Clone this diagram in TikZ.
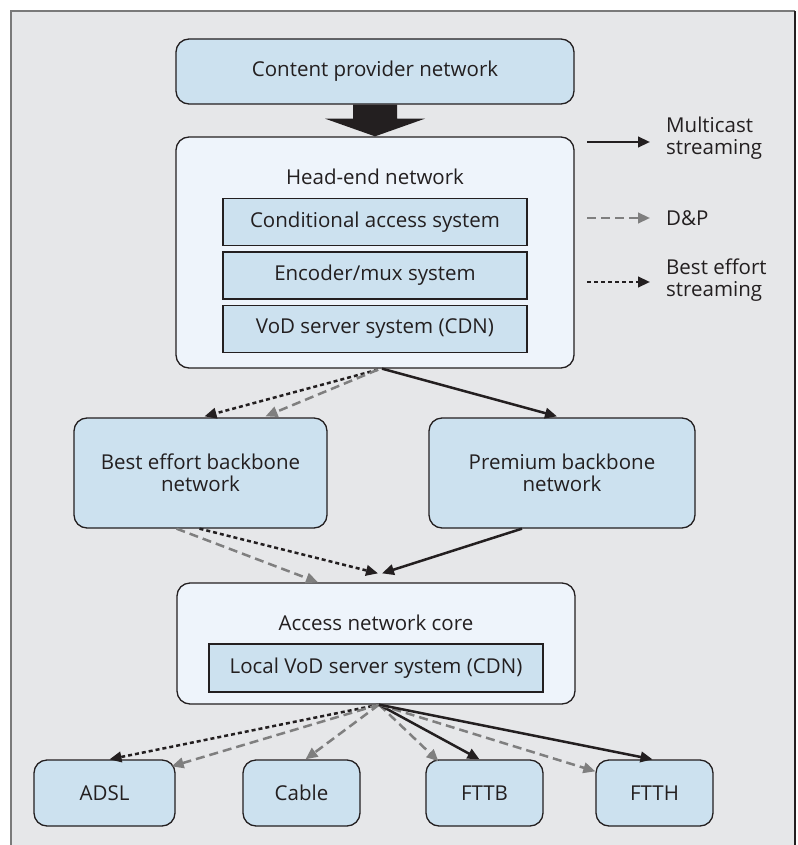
\documentclass[tikz,border=0pt]{standalone}
\usepackage{fontspec}
\setmainfont{Open Sans}
\usetikzlibrary{arrows.meta,calc}
\definecolor{bg}{HTML}{E6E7E9}
\definecolor{boxblue}{HTML}{CCE1EF}
\definecolor{pale}{HTML}{EEF4FB}
\definecolor{ink}{HTML}{231F20}
\definecolor{dgray}{HTML}{7F7F7F}
\definecolor{framegray}{HTML}{7A7A7A}
\begin{document}
\begin{tikzpicture}[x=1pt,y=-1pt,
  every node/.style={font=\fontsize{20.5}{21.5}\selectfont, text=ink},
  rbox/.style={draw=ink, line width=1.3pt, fill=boxblue, rounded corners=13pt, inner sep=0pt, align=center},
  outerbox/.style={draw=ink, line width=1.3pt, fill=pale, rounded corners=13pt, inner sep=0pt},
  sbox/.style={draw=ink, line width=1.3pt, fill=boxblue, inner sep=0pt, align=center},
  mc/.style={draw=ink, line width=2.5pt, -{Triangle[length=12pt,width=10.5pt]}},
  dp/.style={draw=dgray, line width=2.5pt, dash pattern=on 9pt off 5pt, -{Triangle[length=12pt,width=10.5pt]}},
  be/.style={draw=ink, line width=2.5pt, dash pattern=on 4pt off 3pt, -{Triangle[length=12pt,width=10.5pt]}},
  legtext/.style={anchor=west, align=left, inner sep=0pt},
]
\useasboundingbox (0,0) rectangle (797,845);
% background frame
\fill[bg] (11,11) rectangle (795,845);
\draw[framegray, line width=2pt] (11,845) -- (11,11) -- (795,11);
\draw[ink, line width=2pt] (795,11) -- (795,845);

% boxes
\node[rbox, minimum width=398pt, minimum height=65pt] (cp) at (375,71.5) {Content provider network};
\node[outerbox, minimum width=398pt, minimum height=231pt] (he) at (375,252.5) {};
\node (het) at (375,177) {Head-end network};
\node[sbox, minimum width=304pt, minimum height=47pt] (cas) at (375,222) {Conditional access system};
\node[sbox, minimum width=304pt, minimum height=47pt] (enc) at (375,275.5) {Encoder/mux system};
\node[sbox, minimum width=304pt, minimum height=47pt] (vod) at (375,329) {VoD server system (CDN)};

\node[rbox, minimum width=253pt, minimum height=110pt] (best) at (200.5,473) {Best effort backbone\\network};
\node[rbox, minimum width=266pt, minimum height=110pt] (prem) at (562,473) {Premium backbone\\network};

\node[outerbox, minimum width=398pt, minimum height=121pt] (acc) at (376,643.5) {};
\node (acct) at (376,623) {Access network core};
\node[sbox, minimum width=334pt, minimum height=48pt] (lvod) at (376,668) {Local VoD server system (CDN)};

\node[rbox, minimum width=141pt, minimum height=66pt] (adsl) at (104.5,793) {ADSL};
\node[rbox, minimum width=117pt, minimum height=66pt] (cable) at (301.5,793) {Cable};
\node[rbox, minimum width=117pt, minimum height=66pt] (fttb) at (484.5,793) {FTTB};
\node[rbox, minimum width=117pt, minimum height=66pt] (ftth) at (654.5,793) {FTTH};

% big arrow
\fill[ink] ($(cp.south)+(-22,0)$) -- ($(cp.south)+(22,0)$) -- ($(cp.south)+(22,14)$)
  -- ($(cp.south)+(50,14)$) -- (he.north) -- ($(cp.south)+(-50,14)$) -- ($(cp.south)+(-22,14)$) -- cycle;

% head-end fan
\coordinate (ho) at ($(he.south)+(3,1)$);
\draw[be] (ho) -- ($(best.north)+(4,-1)$);
\draw[dp] (ho) -- ($(best.north)+(65,-1)$);
\draw[mc] ($(he.south)+(7,0)$) -- ($(prem.north)+(-5,-1)$);

% backbones to access
\draw[dp] ($(best.south)+(-24,0)$) -- ($(acc.north)+(-58,0)$);
\draw[be] ($(best.south)+(-1,0)$) -- ($(acc.north)+(2,-9)$);
\draw[mc] ($(prem.south)+(-40,0)$) -- ($(acc.north)+(6,-9)$);

% access fan
\coordinate (ao) at ($(acc.south)+(3,0)$);
\draw[be] (ao) -- ($(adsl.north)+(5,0)$);
\draw[dp] (ao) -- ($(adsl.north east)+(-4,7)$);
\draw[dp] (ao) -- ($(cable.north)+(4,0)$);
\draw[dp] (ao) -- ($(fttb.north)+(-46,2)$);
\draw[mc] (ao) -- ($(fttb.north)+(-5,0)$);
\draw[dp] (ao) -- ($(ftth.north west)+(0,12)$);
\draw[mc] (ao) -- ($(ftth.north)+(-2,0)$);

% legend
\node[legtext] (lmc) at (666,138) {Multicast\\streaming};
\node[legtext] (ldp) at (666,218) {D\&P};
\node[legtext] (lbe) at (666,280) {Best effort\\streaming};
\coordinate (lmca) at (587,142); \coordinate (lmcb) at (650,142);
\coordinate (ldpa) at (587,218); \coordinate (ldpb) at (650,218);
\coordinate (lbea) at (587,282); \coordinate (lbeb) at (650,282);
\draw[mc] (lmca) -- (lmcb);
\draw[dp] (ldpa) -- (ldpb);
\draw[be] (lbea) -- (lbeb);
\end{tikzpicture}
\end{document}
